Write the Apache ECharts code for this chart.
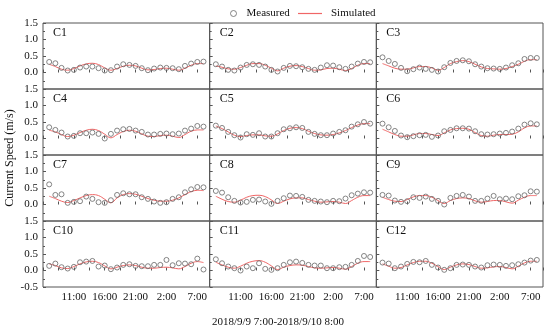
<!DOCTYPE html>
<html><head><meta charset="utf-8">
<script src="https://cdn.jsdelivr.net/npm/echarts@6/dist/echarts.min.js"></script>
<style>html,body{margin:0;padding:0;background:#fff}#c{width:550px;height:332px}</style>
</head><body><div id="c"></div>
<script>
// Panel names
const panelNames = ['C1','C2','C3','C4','C5','C6','C7','C8','C9','C10','C11','C12'];
// Hourly times, 2018/9/9 7:00 .. 2018/9/10 8:00 (hours after 6:00 on 9/9)
const timeLabels = ['7:00','8:00','9:00','10:00','11:00','12:00','13:00','14:00','15:00','16:00','17:00','18:00','19:00','20:00','21:00','22:00','23:00','0:00','1:00','2:00','3:00','4:00','5:00','6:00','7:00','8:00'];
const hourOffsets = [1,2,3,4,5,6,7,8,9,10,11,12,13,14,15,16,17,18,19,20,21,22,23,24,25,26];
// x tick labels (every 5 h from 6:00)
const xTickLabels = ['', '11:00', '16:00', '21:00', '2:00', '7:00'];

// Measured
const measC1  = [0.32,0.28,0.14,0.06,0.08,0.15,0.18,0.18,0.13,0.06,0.07,0.18,0.25,0.23,0.20,0.13,0.07,0.12,0.15,0.14,0.13,0.10,0.20,0.27,0.32,0.33];
const measC2  = [0.25,0.18,0.08,0.06,0.15,0.23,0.25,0.23,0.18,0.08,0.03,0.14,0.20,0.19,0.16,0.11,0.08,0.15,0.22,0.21,0.16,0.11,0.18,0.27,0.32,0.31];
const measC3  = [0.46,0.35,0.26,0.14,0.04,0.10,0.15,0.11,0.08,0.03,0.16,0.29,0.35,0.37,0.34,0.25,0.18,0.13,0.12,0.11,0.15,0.22,0.28,0.41,0.44,0.44];
const measC4  = [0.34,0.26,0.18,0.06,0.08,0.16,0.16,0.18,0.14,0.00,0.14,0.24,0.28,0.29,0.24,0.20,0.12,0.12,0.14,0.15,0.13,0.15,0.24,0.30,0.38,0.36];
const measC5  = [0.39,0.32,0.20,0.10,0.03,0.13,0.11,0.16,0.06,0.06,0.16,0.28,0.31,0.34,0.32,0.20,0.14,0.10,0.10,0.15,0.20,0.25,0.36,0.43,0.50,0.45];
const measC6  = [0.45,0.34,0.23,0.09,0.04,0.07,0.10,0.11,0.05,0.09,0.22,0.26,0.31,0.31,0.30,0.22,0.13,0.12,0.13,0.15,0.17,0.21,0.30,0.42,0.46,0.43];
const measC7  = [0.61,0.29,0.31,0.05,0.08,0.10,0.24,0.17,0.07,0.05,0.13,0.29,0.34,0.31,0.31,0.22,0.17,0.09,0.05,0.07,0.17,0.22,0.37,0.46,0.53,0.52];
const measC8  = [0.41,0.36,0.22,0.11,0.06,0.08,0.14,0.15,0.09,0.02,0.11,0.19,0.27,0.26,0.23,0.14,0.11,0.09,0.07,0.11,0.10,0.18,0.28,0.33,0.37,0.36];
const measC9  = [0.29,0.27,0.12,0.08,0.10,0.22,0.20,0.24,0.17,0.11,0.00,0.20,0.26,0.29,0.24,0.11,0.11,0.18,0.26,0.16,0.18,0.16,0.25,0.28,0.40,0.39];
const measC10 = [0.14,0.21,0.10,0.06,0.11,0.25,0.27,0.29,0.12,0.15,0.04,0.09,0.17,0.19,0.14,0.13,0.13,0.17,0.17,0.32,0.16,0.22,0.21,0.19,0.36,0.03];
const measC11 = [0.34,0.22,0.12,0.07,0.00,0.12,0.07,0.22,0.05,0.02,0.07,0.17,0.25,0.27,0.23,0.17,0.15,0.15,0.07,0.07,0.10,0.11,0.17,0.29,0.44,0.41];
const measC12 = [0.24,0.21,0.07,0.12,0.20,0.26,0.25,0.29,0.17,0.09,0.02,0.07,0.17,0.18,0.17,0.12,0.09,0.16,0.18,0.17,0.14,0.16,0.19,0.24,0.30,0.32];

// Simulated
const simC1  = [0.25,0.18,0.10,0.07,0.12,0.20,0.26,0.28,0.24,0.14,0.07,0.12,0.19,0.22,0.20,0.13,0.08,0.09,0.12,0.13,0.10,0.07,0.13,0.22,0.27,0.27];
const simC2  = [0.20,0.16,0.11,0.10,0.15,0.22,0.27,0.27,0.22,0.13,0.05,0.13,0.19,0.21,0.18,0.12,0.07,0.08,0.12,0.13,0.10,0.06,0.12,0.22,0.27,0.27];
const simC3  = [0.27,0.20,0.13,0.10,0.10,0.14,0.18,0.18,0.14,0.07,0.15,0.27,0.33,0.36,0.33,0.25,0.17,0.12,0.11,0.10,0.12,0.18,0.25,0.34,0.39,0.39];
const simC4  = [0.25,0.20,0.12,0.06,0.10,0.18,0.25,0.28,0.24,0.13,0.02,0.12,0.21,0.25,0.22,0.14,0.07,0.06,0.09,0.10,0.07,0.03,0.12,0.22,0.26,0.26];
const simC5  = [0.38,0.30,0.20,0.10,0.06,0.09,0.11,0.11,0.08,0.07,0.14,0.24,0.31,0.33,0.30,0.22,0.15,0.11,0.10,0.12,0.17,0.24,0.33,0.41,0.45,0.45];
const simC6  = [0.28,0.20,0.12,0.07,0.07,0.11,0.15,0.15,0.12,0.09,0.17,0.26,0.30,0.31,0.28,0.18,0.09,0.07,0.10,0.12,0.12,0.13,0.20,0.32,0.38,0.38];
const simC7  = [0.25,0.18,0.10,0.06,0.12,0.20,0.27,0.30,0.27,0.16,0.05,0.20,0.30,0.33,0.31,0.25,0.18,0.13,0.10,0.10,0.13,0.20,0.30,0.39,0.43,0.42];
const simC8  = [0.25,0.16,0.09,0.07,0.13,0.22,0.27,0.28,0.24,0.14,0.03,0.10,0.17,0.20,0.20,0.15,0.10,0.07,0.08,0.09,0.07,0.03,0.12,0.22,0.27,0.27];
const simC9  = [0.22,0.15,0.10,0.09,0.15,0.23,0.27,0.27,0.22,0.12,0.03,0.12,0.18,0.20,0.18,0.11,0.07,0.09,0.12,0.12,0.08,0.04,0.13,0.22,0.27,0.27];
const simC10 = [0.20,0.15,0.08,0.06,0.12,0.20,0.26,0.28,0.24,0.14,0.05,0.10,0.15,0.17,0.15,0.10,0.07,0.07,0.09,0.10,0.08,0.05,0.12,0.22,0.27,0.24];
const simC11 = [0.25,0.17,0.10,0.07,0.13,0.22,0.28,0.30,0.25,0.14,0.03,0.10,0.15,0.17,0.16,0.12,0.08,0.07,0.08,0.09,0.07,0.04,0.12,0.22,0.27,0.27];
const simC12 = [0.20,0.13,0.07,0.09,0.17,0.24,0.28,0.28,0.22,0.12,0.03,0.10,0.17,0.20,0.18,0.12,0.07,0.08,0.11,0.12,0.09,0.05,0.13,0.23,0.28,0.28];

const measured = [measC1,measC2,measC3,measC4,measC5,measC6,measC7,measC8,measC9,measC10,measC11,measC12];
const simulated = [simC1,simC2,simC3,simC4,simC5,simC6,simC7,simC8,simC9,simC10,simC11,simC12];

const FONT = "'Liberation Serif','Times New Roman',serif";
const FRAME = '#555';
const MARK = '#666';
const SIMCOLOR = '#f06666';
const X0 = 43, PW = 166.67, Y0 = 23, PH = 66;

const grids = [], xAxes = [], yAxes = [], series = [], graphics = [];
panelNames.forEach((name, i) => {
  const r = Math.floor(i / 3), c = i % 3;
  const left = X0 + c * PW, top = Y0 + r * PH;
  grids.push({left: left, top: top, width: PW, height: PH, show: true,
    borderColor: FRAME, borderWidth: 1, backgroundColor: 'transparent', containLabel: false});
  xAxes.push({gridIndex: i, type: 'value', min: 0, max: 27, interval: 5,
    axisLine: {show: false}, splitLine: {show: false},
    axisTick: {show: true, inside: true, length: 3, lineStyle: {color: FRAME}},
    minorTick: {show: true, splitNumber: 2, length: 3, lineStyle: {color: FRAME}},
    axisLabel: {show: r === 3, margin: 5, color: '#111', fontFamily: FONT, fontSize: 11,
      formatter: v => { const k = Math.round(v / 5); return (Math.abs(v - k * 5) < 1e-6 && xTickLabels[k] !== undefined) ? xTickLabels[k] : ''; }}
  });
  yAxes.push({gridIndex: i, type: 'value', min: -0.5, max: 1.5, interval: 0.5,
    axisLine: {show: false}, splitLine: {show: false},
    axisTick: {show: true, inside: true, length: 3, lineStyle: {color: FRAME}},
    minorTick: {show: true, splitNumber: 2, length: 2, lineStyle: {color: FRAME}},
    axisLabel: {show: c === 0, margin: 5, color: '#111', fontFamily: FONT, fontSize: 11,
      formatter: v => (v < -0.25 && r < 3) ? '' : v.toFixed(1)}
  });
  series.push({type: 'scatter', name: 'Measured', xAxisIndex: i, yAxisIndex: i,
    symbol: 'circle', symbolSize: 5,
    itemStyle: {color: 'rgba(0,0,0,0)', borderColor: MARK, borderWidth: 1},
    data: hourOffsets.map((h, k) => [h, measured[i][k]]), z: 3, silent: true});
  series.push({type: 'line', name: 'Simulated', xAxisIndex: i, yAxisIndex: i,
    smooth: 0.4, symbol: 'none', showSymbol: false,
    lineStyle: {color: SIMCOLOR, width: 1}, itemStyle: {color: SIMCOLOR},
    data: hourOffsets.map((h, k) => [h, simulated[i][k]]), z: 2, silent: true});
  graphics.push({type: 'text', left: left + 10, top: top + 4,
    style: {text: name, font: '12px ' + FONT, fill: '#111'}});
});

graphics.push({type: 'text', x: 10, y: 158, rotation: Math.PI / 2,
  style: {text: 'Current Speed (m/s)', font: '12px ' + FONT, fill: '#111', align: 'center', verticalAlign: 'middle'}});
graphics.push({type: 'text', x: 278, y: 322,
  style: {text: '2018/9/9 7:00-2018/9/10 8:00', font: '11px ' + FONT, fill: '#111', align: 'center', verticalAlign: 'middle'}});

const chart = echarts.init(document.getElementById('c'), null, {renderer: 'canvas'});
chart.setOption({
  animation: false,
  backgroundColor: '#fff',
  grid: grids, xAxis: xAxes, yAxis: yAxes, series: series,
  legend: [
    {left: 225, top: 3, itemWidth: 6, itemHeight: 6, selectedMode: false,
      textStyle: {fontFamily: FONT, fontSize: 11, color: '#111', padding: [0,0,0,5]},
      data: [{name: 'Measured', icon: 'circle', itemStyle: {color: 'rgba(0,0,0,0)', borderColor: MARK, borderWidth: 1}}]},
    {left: 293, top: 3, itemWidth: 24, itemHeight: 1.2, selectedMode: false,
      textStyle: {fontFamily: FONT, fontSize: 11, color: '#111', padding: [0,0,0,4]},
      data: [{name: 'Simulated', icon: 'rect', itemStyle: {color: SIMCOLOR, borderWidth: 0}}]}
  ],
  graphic: graphics
});
</script></body></html>
